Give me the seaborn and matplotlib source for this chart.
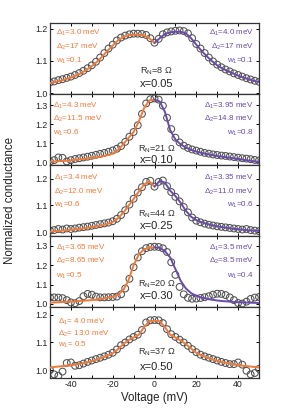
import numpy as np
import pandas as pd
import matplotlib
matplotlib.use("Agg")
import matplotlib.pyplot as plt
import seaborn as sns

# ---------------- data ----------------
volt_data = [-50, -48, -46, -44, -42, -40, -38, -36, -34, -32, -30, -28, -26, -24, -22, -20,
             -18, -16, -14, -12, -10, -8, -6, -4, -2, 0, 2, 4, 6, 8, 10, 12, 14, 16, 18, 20,
             22, 24, 26, 28, 30, 32, 34, 36, 38, 40, 42, 44, 46, 48, 50]
volt_left = [-50, -47.5, -45, -42.5, -40, -37.5, -35, -32.5, -30, -27.5, -25, -22.5, -20,
             -17.5, -15, -12.5, -10, -7.5, -5, -2.5, 0]
volt_right = [0, 2.5, 5, 7.5, 10, 12.5, 15, 17.5, 20, 22.5, 25, 27.5, 30, 32.5, 35, 37.5,
              40, 42.5, 45, 47.5, 50]
volt_full = volt_left + volt_right[1:]

# x = 0.05
data_005 = [1.033, 1.036, 1.040, 1.043, 1.047, 1.051, 1.056, 1.062, 1.069, 1.077, 1.086,
            1.097, 1.110, 1.124, 1.138, 1.150, 1.163, 1.172, 1.178, 1.182, 1.184, 1.184,
            1.183, 1.180, 1.170, 1.156, 1.168, 1.182, 1.188, 1.191, 1.193, 1.194, 1.192,
            1.185, 1.170, 1.152, 1.138, 1.124, 1.110, 1.098, 1.088, 1.080, 1.073, 1.067,
            1.061, 1.056, 1.051, 1.046, 1.042, 1.038, 1.035]
fitL_005 = [1.031, 1.034, 1.038, 1.043, 1.048, 1.054, 1.062, 1.072, 1.083, 1.097, 1.113,
            1.131, 1.147, 1.163, 1.173, 1.179, 1.181, 1.181, 1.179, 1.170, 1.155]
fitR_005 = [1.155, 1.170, 1.183, 1.188, 1.190, 1.190, 1.185, 1.170, 1.150, 1.131, 1.114,
            1.099, 1.086, 1.076, 1.068, 1.061, 1.054, 1.048, 1.043, 1.038, 1.034]

# x = 0.10
data_010 = [1.005, 1.012, 1.026, 1.024, 1.005, 1.012, 1.018, 1.022, 1.026, 1.030, 1.035,
            1.040, 1.045, 1.050, 1.056, 1.063, 1.072, 1.086, 1.108, 1.135, 1.160, 1.195,
            1.255, 1.310, 1.332, 1.336, 1.330, 1.298, 1.235, 1.175, 1.130, 1.105, 1.088,
            1.076, 1.068, 1.062, 1.056, 1.050, 1.046, 1.042, 1.039, 1.036, 1.034, 1.031,
            1.028, 1.025, 1.022, 1.020, 1.017, 1.013, 1.010]
fitL_010 = [1.003, 1.005, 1.007, 1.009, 1.011, 1.014, 1.017, 1.020, 1.023, 1.027, 1.032,
            1.038, 1.046, 1.065, 1.095, 1.128, 1.160, 1.215, 1.285, 1.326, 1.330]
fitR_010 = [1.330, 1.320, 1.265, 1.170, 1.120, 1.095, 1.078, 1.066, 1.057, 1.050, 1.044,
            1.039, 1.034, 1.030, 1.026, 1.022, 1.018, 1.014, 1.010, 1.006, 1.003]

# x = 0.25
data_025 = [1.006, 1.008, 1.012, 1.010, 1.014, 1.012, 1.014, 1.017, 1.019, 1.021, 1.024,
            1.027, 1.030, 1.033, 1.036, 1.041, 1.050, 1.064, 1.082, 1.103, 1.125, 1.148,
            1.168, 1.188, 1.192, 1.170, 1.188, 1.193, 1.172, 1.150, 1.132, 1.115, 1.094,
            1.074, 1.055, 1.043, 1.037, 1.032, 1.028, 1.025, 1.022, 1.020, 1.018, 1.016,
            1.014, 1.012, 1.010, 1.012, 1.008, 1.006, 1.004]
fitL_025 = [1.002, 1.004, 1.005, 1.007, 1.009, 1.011, 1.013, 1.016, 1.019, 1.022, 1.026,
            1.031, 1.038, 1.052, 1.072, 1.098, 1.124, 1.152, 1.178, 1.190, 1.170]
fitR_025 = [1.170, 1.192, 1.185, 1.155, 1.135, 1.110, 1.080, 1.058, 1.045, 1.037, 1.031,
            1.026, 1.022, 1.019, 1.016, 1.013, 1.011, 1.009, 1.007, 1.006, 1.005]

# x = 0.30
data_030 = [1.034, 1.034, 1.033, 1.030, 1.020, 1.008, 1.004, 1.015, 1.040, 1.052, 1.048,
            1.038, 1.034, 1.034, 1.035, 1.036, 1.038, 1.050, 1.080, 1.130, 1.190, 1.240,
            1.272, 1.288, 1.294, 1.295, 1.294, 1.287, 1.268, 1.215, 1.150, 1.088, 1.050,
            1.032, 1.027, 1.028, 1.031, 1.035, 1.040, 1.048, 1.053, 1.052, 1.046, 1.034,
            1.020, 1.005, 1.002, 1.012, 1.026, 1.033, 1.036]
fitL_030 = [1.007, 1.008, 1.009, 1.011, 1.012, 1.014, 1.016, 1.018, 1.020, 1.023, 1.027,
            1.032, 1.038, 1.048, 1.070, 1.120, 1.200, 1.255, 1.282, 1.290, 1.292]
fitR_030 = [1.292, 1.290, 1.272, 1.240, 1.180, 1.120, 1.080, 1.056, 1.042, 1.033, 1.027,
            1.022, 1.018, 1.015, 1.013, 1.011, 1.009, 1.008, 1.007, 1.006, 1.005]

# x = 0.50
data_050 = [1.000, 0.985, 0.980, 0.995, 1.026, 1.028, 1.016, 1.018, 1.024, 1.030, 1.035,
            1.040, 1.045, 1.050, 1.056, 1.063, 1.075, 1.090, 1.100, 1.111, 1.120, 1.128,
            1.145, 1.172, 1.180, 1.181, 1.180, 1.170, 1.148, 1.130, 1.120, 1.110, 1.100,
            1.088, 1.076, 1.065, 1.056, 1.050, 1.045, 1.040, 1.035, 1.030, 1.026, 1.022,
            1.022, 1.028, 1.020, 0.998, 0.985, 0.990, 1.005]
fit_050 = [1.010, 1.012, 1.014, 1.016, 1.018, 1.021, 1.024, 1.028, 1.033, 1.038, 1.045,
           1.052, 1.061, 1.076, 1.093, 1.108, 1.118, 1.128, 1.155, 1.176, 1.178, 1.176,
           1.155, 1.128, 1.118, 1.107, 1.094, 1.078, 1.063, 1.053, 1.046, 1.039, 1.034,
           1.029, 1.025, 1.021, 1.018, 1.016, 1.014, 1.012, 1.010]

labels_left = [["Δ$_1$=3.0 meV", "Δ$_2$=17 meV", "w$_1$=0.1"],
               ["Δ$_1$=4.3 meV", "Δ$_2$=11.5 meV", "w$_1$=0.6"],
               ["Δ$_1$=3.4 meV", "Δ$_2$=12.0 meV", "w$_1$=0.6"],
               ["Δ$_1$=3.65 meV", "Δ$_2$=8.65 meV", "w$_1$=0.5"],
               ["Δ$_1$= 4.0 meV", "Δ$_2$= 13.0 meV", "w$_1$= 0.5"]]
labels_right = [["Δ$_1$=4.0 meV", "Δ$_2$=17 meV", "w$_1$=0.1"],
                ["Δ$_1$=3.95 meV", "Δ$_2$=14.8 meV", "w$_1$=0.8"],
                ["Δ$_1$=3.35 meV", "Δ$_2$=11.0 meV", "w$_1$=0.6"],
                ["Δ$_1$=3.5 meV", "Δ$_2$=8.5 meV", "w$_1$=0.4"],
                None]
rn_labels = ["R$_N$=8 Ω", "R$_N$=21 Ω", "R$_N$=44 Ω", "R$_N$=20 Ω", "R$_N$=37 Ω"]
x_labels = ["x=0.05", "x=0.10", "x=0.25", "x=0.30", "x=0.50"]
yticks_list = [[1.0, 1.1, 1.2], [1.0, 1.1, 1.2, 1.3], [1.0, 1.1, 1.2],
               [1.0, 1.1, 1.2, 1.3], [1.0, 1.1, 1.2]]
xticks_major = [-40, -20, 0, 20, 40]

# ---------------- style ----------------
sns.set_theme(style="ticks")
plt.rcParams["font.family"] = ["Liberation Sans", "DejaVu Sans"]
plt.rcParams["mathtext.default"] = "regular"
plt.rcParams["axes.linewidth"] = 0.9
plt.rcParams["xtick.direction"] = "in"
plt.rcParams["ytick.direction"] = "in"

ORANGE = "#F07A38"
PURPLE = "#6A4AAA"
CIRC = "#505050"
TXT = "#333333"

ylims = [(0.998, 1.218), (0.988, 1.361), (0.987, 1.252), (0.986, 1.352), (0.973, 1.229)]
text_rows = [(0.85, 0.655, 0.455), (0.83, 0.64, 0.45), (0.81, 0.61, 0.43),
             (0.83, 0.64, 0.44), (0.79, 0.62, 0.46)]
rn_pos = [(0.315, 0.14), (0.215, 0.07), (0.30, 0.13), (0.32, 0.15), (0.365, 0.155)]
left_x = [0.03, 0.015, 0.02, 0.03, 0.04]

fig = plt.figure(figsize=(2.91, 4.17), dpi=100)
gs = fig.add_gridspec(5, 1, hspace=0, left=50 / 291, right=259 / 291,
                      top=1 - 22.7 / 417, bottom=1 - 377.7 / 417)
axes = [fig.add_subplot(gs[i]) for i in range(5)]

datas = [data_005, data_010, data_025, data_030, data_050]
fitsL = [fitL_005, fitL_010, fitL_025, fitL_030, None]
fitsR = [fitR_005, fitR_010, fitR_025, fitR_030, None]

for i, ax in enumerate(axes):
    df = pd.DataFrame({"V": volt_data, "G": datas[i]})
    sns.scatterplot(data=df, x="V", y="G", ax=ax, marker="o", s=24,
                    facecolors="none", edgecolor=CIRC, linewidth=0.75, zorder=2)
    if fitsL[i] is not None:
        sns.lineplot(x=volt_left, y=fitsL[i], ax=ax, color=ORANGE, lw=1.4, zorder=3)
        sns.lineplot(x=volt_right, y=fitsR[i], ax=ax, color=PURPLE, lw=1.4, zorder=3)
    else:
        sns.lineplot(x=volt_full, y=fit_050, ax=ax, color=ORANGE, lw=1.4, zorder=3)

    ax.set_xlim(-50, 50)
    ax.set_ylim(*ylims[i])
    ax.set_yticks(yticks_list[i])
    ax.set_yticklabels([f"{t:.1f}" for t in yticks_list[i]])
    ax.set_xticks(xticks_major)
    ax.set_xticks([-50, -30, -10, 10, 30, 50], minor=True)
    ax.tick_params(axis="both", which="both", direction="in", top=True, right=True,
                   labelsize=6.3, length=2.5, width=0.7, pad=2, colors="black")
    ax.tick_params(axis="both", labelcolor="#222222")
    ax.set_xlabel("")
    ax.set_ylabel("")
    for sp in ax.spines.values():
        sp.set_color("#333333")
    if i < 4:
        ax.tick_params(axis="x", labelbottom=False)
    else:
        ax.set_xticklabels([str(t) for t in xticks_major])

    rows = text_rows[i]
    for j, t in enumerate(labels_left[i]):
        ax.text(left_x[i], rows[j], t, transform=ax.transAxes, color=ORANGE,
                fontsize=5.8, ha="left", va="center")
    if labels_right[i] is not None:
        for j, t in enumerate(labels_right[i]):
            ax.text(0.975, rows[j], t, transform=ax.transAxes, color=PURPLE,
                    fontsize=5.8, ha="right", va="center")
    ax.text(0.51, rn_pos[i][0], rn_labels[i], transform=ax.transAxes, color=TXT,
            fontsize=6.6, ha="center", va="center")
    ax.text(0.51, rn_pos[i][1], x_labels[i], transform=ax.transAxes, color="#222222",
            fontsize=8, ha="center", va="center")

axes[-1].set_xlabel("Voltage (mV)", fontsize=8.3, labelpad=2, color="#222222")
fig.text(0.034, 0.52, "Normalized conductance", rotation=90, va="center", ha="center",
         fontsize=8.3, color="#222222")

fig.savefig("out.png", dpi=100, facecolor="white")
